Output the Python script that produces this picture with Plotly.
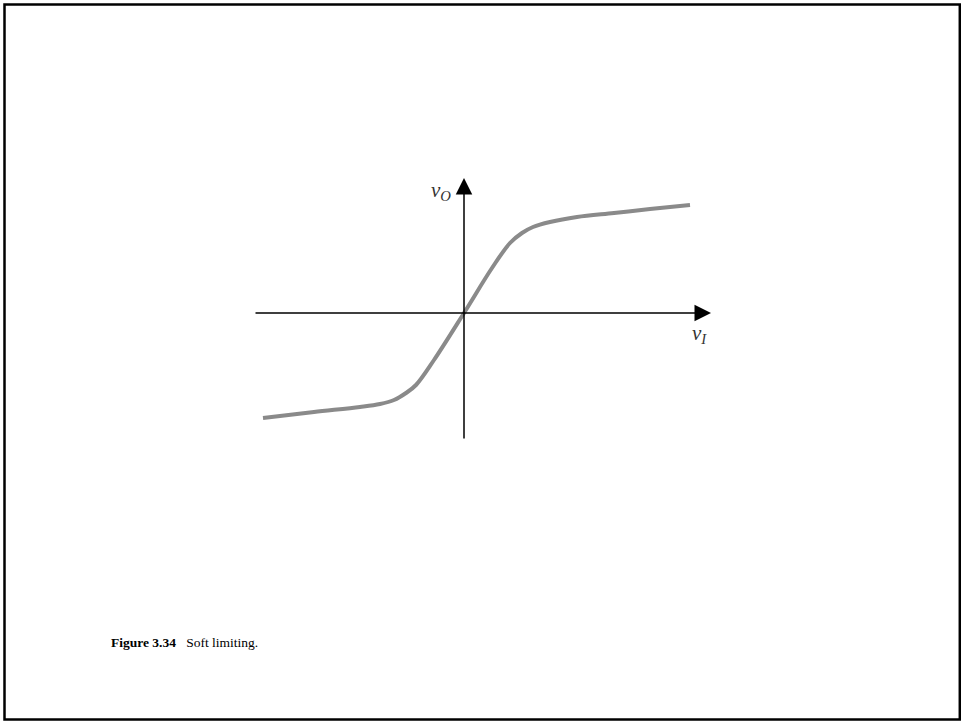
import plotly.graph_objects as go

# Transfer characteristic (v_I, v_O) (arbitrary units)
v_i = [-201, -150, -104, -84, -70, -58, -48, -30, 0, 28, 46, 58, 69, 86, 113, 150, 186, 226]
v_o = [-105, -99, -94, -91, -87, -80, -72, -47, 0, 45, 70, 80, 86, 91, 96, 100, 104, 108]

# Axis extents
x_axis = [-210, 247]
y_axis = [-127, 135]

caption_bold = "Figure 3.34"
caption_text = "Soft limiting."

W, H = 961, 721
X0, Y0 = 464, 313  # pixel position of origin

fig = go.Figure()

fig.add_trace(go.Scatter(
    x=v_i, y=v_o, mode="lines",
    line=dict(color="rgb(138,138,138)", width=4, shape="spline", smoothing=1.0),
    hoverinfo="skip", showlegend=False,
))

ann = []
# x axis with arrow
ann.append(dict(x=x_axis[1], y=0, ax=x_axis[0], ay=0, xref="x", yref="y",
                axref="x", ayref="y", text="", showarrow=True, arrowhead=2,
                arrowsize=2.2, arrowwidth=1.5, arrowcolor="black", standoff=0))
# y axis with arrow
ann.append(dict(x=0, y=y_axis[1], ax=0, ay=y_axis[0], xref="x", yref="y",
                axref="x", ayref="y", text="", showarrow=True, arrowhead=2,
                arrowsize=2.2, arrowwidth=1.5, arrowcolor="black", standoff=0))
serif = "Liberation Serif"
ann.append(dict(x=441 - X0, y=Y0 - 191, xref="x", yref="y", showarrow=False,
                text="<i>v</i><sub><i>O</i></sub>",
                font=dict(family=serif, size=21, color="#333"), xanchor="center", yanchor="middle"))
ann.append(dict(x=699 - X0, y=Y0 - 334, xref="x", yref="y", showarrow=False,
                text="<i>v</i><sub><i>I</i></sub>",
                font=dict(family=serif, size=21, color="#333"), xanchor="center", yanchor="middle"))
ann.append(dict(x=109 - X0, y=Y0 - 642, xref="x", yref="y", showarrow=False,
                text="<b>" + caption_bold + "</b>\u00a0\u00a0\u00a0" + caption_text,
                font=dict(family=serif, size=13.5, color="black"), xanchor="left", yanchor="middle"))

fig.update_layout(
    width=W, height=H,
    margin=dict(l=0, r=0, t=0, b=0),
    paper_bgcolor="white", plot_bgcolor="white",
    xaxis=dict(range=[-X0, W - X0], visible=False, fixedrange=True),
    yaxis=dict(range=[Y0 - H, Y0], visible=False, fixedrange=True),
    annotations=ann,
    shapes=[dict(type="rect", xref="x", yref="y",
                 x0=4.5 - X0, x1=959.8 - X0, y0=Y0 - 4.5, y1=Y0 - 719.6,
                 line=dict(color="black", width=2.5))],
)

fig.write_html("out.html", config={"displayModeBar": False},
               post_script="document.body.style.margin='0';document.body.style.overflow='hidden';")
